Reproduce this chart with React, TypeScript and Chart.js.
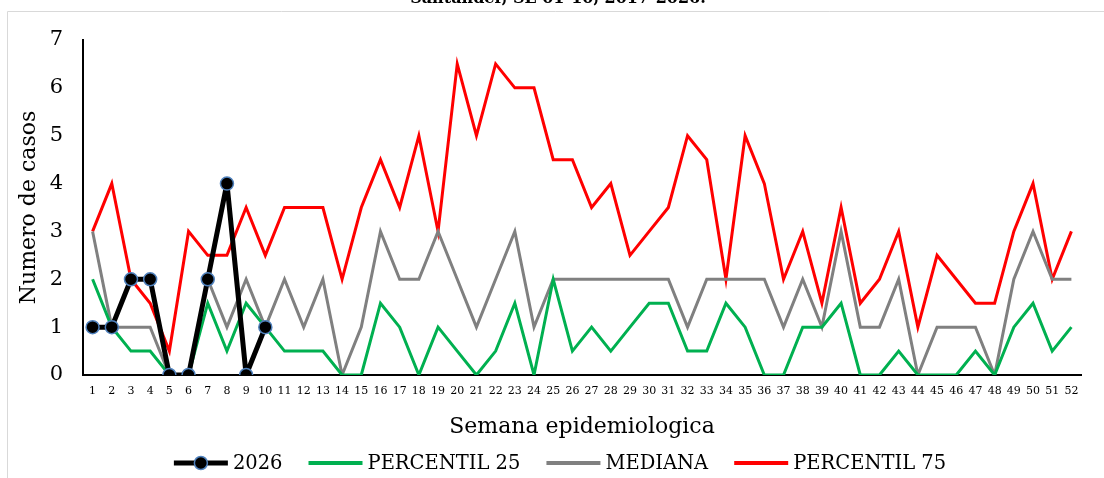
import { useEffect, useRef } from 'react';
import { Chart, registerables } from 'chart.js';

Chart.register(...registerables);

const FONT = '"DejaVu Serif"';
const TITLE = 'Santander, SE 01-10, 2017-2026.';
const X_TITLE = 'Semana epidemiologica';
const Y_TITLE = 'Numero de casos';

const weeks = [
  '1', '2', '3', '4', '5', '6', '7', '8', '9', '10',
  '11', '12', '13', '14', '15', '16', '17', '18', '19', '20',
  '21', '22', '23', '24', '25', '26', '27', '28', '29', '30',
  '31', '32', '33', '34', '35', '36', '37', '38', '39', '40',
  '41', '42', '43', '44', '45', '46', '47', '48', '49', '50',
  '51', '52',
];

const cases2026 = [1, 1, 2, 2, 0, 0, 2, 4, 0, 1];

const percentil25 = [
  2, 1, 0.5, 0.5, 0, 0, 1.5, 0.5, 1.5, 1,
  0.5, 0.5, 0.5, 0, 0, 1.5, 1, 0, 1, 0.5,
  0, 0.5, 1.5, 0, 2, 0.5, 1, 0.5, 1, 1.5,
  1.5, 0.5, 0.5, 1.5, 1, 0, 0, 1, 1, 1.5,
  0, 0, 0.5, 0, 0, 0, 0.5, 0, 1, 1.5,
  0.5, 1,
];

const mediana = [
  3, 1, 1, 1, 0, 0, 2, 1, 2, 1,
  2, 1, 2, 0, 1, 3, 2, 2, 3, 2,
  1, 2, 3, 1, 2, 2, 2, 2, 2, 2,
  2, 1, 2, 2, 2, 2, 1, 2, 1, 3,
  1, 1, 2, 0, 1, 1, 1, 0, 2, 3,
  2, 2,
];

const percentil75 = [
  3, 4, 2, 1.5, 0.5, 3, 2.5, 2.5, 3.5, 2.5,
  3.5, 3.5, 3.5, 2, 3.5, 4.5, 3.5, 5, 3, 6.5,
  5, 6.5, 6, 6, 4.5, 4.5, 3.5, 4, 2.5, 3,
  3.5, 5, 4.5, 2, 5, 4, 2, 3, 1.5, 3.5,
  1.5, 2, 3, 1, 2.5, 2, 1.5, 1.5, 3, 4,
  2, 3,
];

const yTicks = [0, 1, 2, 3, 4, 5, 6, 7];

const framePlugin = {
  id: 'frameTitleLegend',
  beforeDraw(chart: any) {
    const ctx = chart.ctx;
    ctx.save();
    ctx.strokeStyle = '#d9d9d9';
    ctx.lineWidth = 1;
    ctx.beginPath();
    ctx.moveTo(7.5, chart.height);
    ctx.lineTo(7.5, 11.5);
    ctx.lineTo(chart.width, 11.5);
    ctx.stroke();
    ctx.fillStyle = '#000';
    ctx.font = `bold 16px ${FONT}`;
    ctx.textAlign = 'center';
    ctx.textBaseline = 'alphabetic';
    ctx.fillText(TITLE, 558, 3);
    ctx.restore();
  },
  afterDraw(chart: any) {
    const ctx = chart.ctx;
    const ds = chart.data.datasets;
    ctx.save();
    ctx.font = `19.5px ${FONT}`;
    const lineLen = 54;
    const gapText = 5;
    const gapItem = 26;
    const widths = ds.map((d: any) => lineLen + gapText + ctx.measureText(d.label).width);
    const total = widths.reduce((a: number, b: number) => a + b, 0) + gapItem * (ds.length - 1);
    let x = 560 - total / 2;
    const y = 463;
    ds.forEach((d: any, i: number) => {
      ctx.strokeStyle = d.borderColor;
      ctx.lineWidth = i === 0 ? 5 : 4;
      ctx.beginPath();
      ctx.moveTo(x, y);
      ctx.lineTo(x + lineLen, y);
      ctx.stroke();
      if (d.pointRadius > 0) {
        ctx.beginPath();
        ctx.arc(x + lineLen / 2, y, d.pointRadius, 0, Math.PI * 2);
        ctx.fillStyle = d.pointBackgroundColor;
        ctx.fill();
        ctx.lineWidth = d.pointBorderWidth;
        ctx.strokeStyle = d.pointBorderColor;
        ctx.stroke();
      }
      ctx.fillStyle = '#000';
      ctx.textAlign = 'left';
      ctx.textBaseline = 'middle';
      ctx.fillText(d.label, x + lineLen + gapText, y + 1);
      x += widths[i] + gapItem;
    });
    ctx.restore();
  },
};

export default function App() {
  const ref = useRef<HTMLCanvasElement>(null);

  useEffect(() => {
    if (!ref.current) return;
    const chart = new Chart(ref.current, {
      type: 'line',
      data: {
        labels: weeks,
        datasets: [
          {
            label: '2026',
            data: cases2026,
            borderColor: '#000000',
            backgroundColor: '#000000',
            borderWidth: 5,
            borderJoinStyle: 'round',
            pointRadius: 6.5,
            pointBackgroundColor: '#000000',
            pointBorderColor: '#4F81BD',
            pointBorderWidth: 1.5,
            tension: 0,
          },
          {
            label: 'PERCENTIL 25',
            data: percentil25,
            borderColor: '#00B050',
            backgroundColor: '#00B050',
            borderWidth: 3,
            pointRadius: 0,
            tension: 0,
          },
          {
            label: 'MEDIANA',
            data: mediana,
            borderColor: '#808080',
            backgroundColor: '#808080',
            borderWidth: 3,
            pointRadius: 0,
            tension: 0,
          },
          {
            label: 'PERCENTIL 75',
            data: percentil75,
            borderColor: '#FF0000',
            backgroundColor: '#FF0000',
            borderWidth: 3,
            pointRadius: 0,
            tension: 0,
          },
        ],
      },
      options: {
        responsive: false,
        animation: false,
        layout: { padding: { left: 0, top: 40, right: 23, bottom: 33 } },
        plugins: {
          legend: { display: false },
          tooltip: { enabled: false },
          title: { display: false },
        },
        scales: {
          x: {
            type: 'category',
            offset: true,
            grid: { display: false, drawTicks: false },
            border: { display: true, color: '#000', width: 2 },
            ticks: {
              autoSkip: false,
              maxRotation: 0,
              minRotation: 0,
              color: '#000',
              padding: 10,
              font: { family: FONT, size: 11 },
            },
            title: {
              display: true,
              text: X_TITLE,
              color: '#000',
              font: { family: FONT, size: 22 },
              padding: { top: 0, bottom: 5 },
            },
            afterFit: (s: any) => {
              s.height = 70;
            },
          },
          y: {
            min: yTicks[0],
            max: yTicks[yTicks.length - 1],
            grid: { display: false, drawTicks: false },
            border: { display: true, color: '#000', width: 2 },
            ticks: {
              stepSize: 1,
              color: '#000',
              padding: 20,
              font: { family: FONT, size: 21 },
            },
            afterBuildTicks: (s: any) => {
              s.ticks = yTicks.map((v) => ({ value: v }));
            },
            title: {
              display: true,
              text: Y_TITLE,
              color: '#000',
              font: { family: FONT, size: 22 },
              padding: { top: 16, bottom: 0 },
            },
            afterFit: (s: any) => {
              s.width = 83;
            },
          },
        },
      } as any,
      plugins: [framePlugin],
    });
    return () => chart.destroy();
  }, []);

  return (
    <div style={{ position: 'fixed', left: 0, top: 0, width: 1104, height: 478, background: '#fff' }}>
      <canvas ref={ref} width={1104} height={478} />
    </div>
  );
}
